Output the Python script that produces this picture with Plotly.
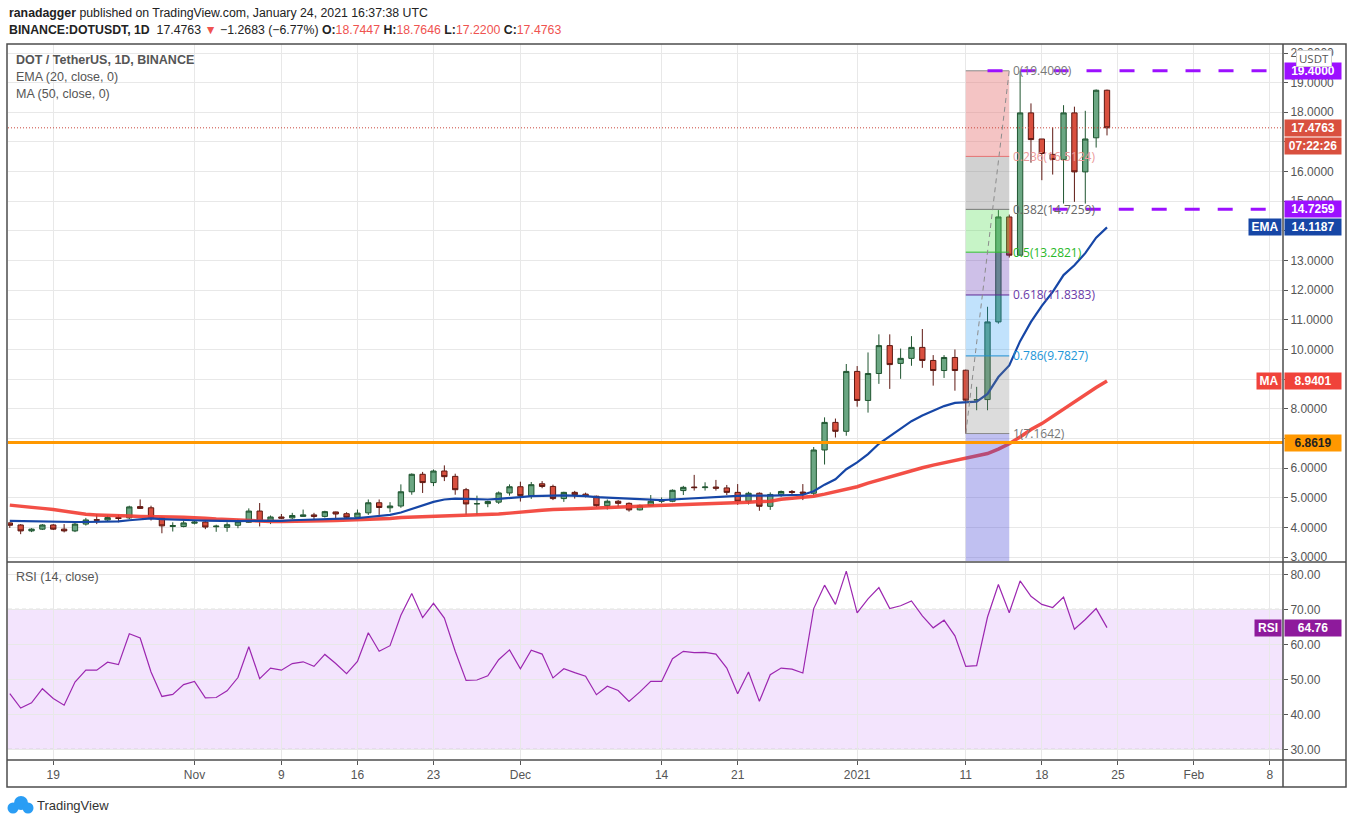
import pandas as pd
import plotly.graph_objects as go

# ---- data (DOT/USDT daily, Binance) ----
dates = pd.date_range("2020-10-15", periods=102, freq="D")

opens = [4.15, 4.08, 3.88, 3.94, 4.08, 3.94, 3.88, 4.11, 4.26, 4.25,
         4.33, 4.32, 4.70, 4.66, 4.32, 4.03, 4.03, 4.14, 4.18, 4.02,
         4.00, 4.07, 4.17, 4.55, 4.20, 4.35, 4.32, 4.37, 4.42, 4.37,
         4.52, 4.46, 4.34, 4.49, 4.83, 4.66, 4.72, 5.20, 5.79, 5.51,
         5.90, 5.72, 5.27, 4.79, 4.80, 4.85, 5.16, 5.37, 5.07, 5.47,
         5.38, 4.97, 5.18, 5.12, 5.05, 4.73, 4.88, 4.81, 4.59, 4.73,
         4.88, 4.88, 5.24, 5.36, 5.34, 5.36, 5.33, 5.18, 4.88, 5.15,
         4.71, 5.11, 5.21, 5.19, 5.15, 6.61, 7.54, 7.24, 9.26, 8.28,
         9.19, 10.13, 9.53, 9.70, 10.07, 9.63, 9.29, 9.73, 9.30, 8.29,
         8.31, 10.93, 14.47, 13.18, 17.98, 17.10, 16.58, 16.41, 17.98, 15.99,
         17.14, 18.7447]
highs = [4.17, 4.11, 3.97, 4.11, 4.11, 4.11, 4.20, 4.32, 4.45, 4.40,
         4.42, 4.73, 4.94, 4.73, 4.36, 4.17, 4.23, 4.23, 4.25, 4.09,
         4.17, 4.28, 4.64, 4.82, 4.40, 4.45, 4.49, 4.60, 4.49, 4.56,
         4.53, 4.51, 4.60, 4.94, 4.94, 4.85, 5.45, 5.82, 5.87, 5.95,
         6.09, 5.81, 5.33, 5.07, 4.90, 5.21, 5.45, 5.54, 5.53, 5.56,
         5.44, 5.20, 5.23, 5.17, 5.07, 4.94, 4.92, 4.84, 4.77, 5.09,
         5.01, 5.28, 5.40, 5.77, 5.52, 5.60, 5.43, 5.46, 5.20, 5.18,
         5.18, 5.24, 5.26, 5.46, 6.71, 7.71, 7.67, 9.51, 9.44, 9.90,
         10.51, 10.51, 10.03, 10.45, 10.69, 9.81, 9.81, 10.00, 9.32, 8.74,
         11.44, 14.70, 14.55, 19.40, 18.30, 17.10, 17.49, 18.24, 18.19, 18.05,
         18.77, 18.7646]
lows = [3.98, 3.77, 3.84, 3.91, 3.91, 3.83, 3.84, 4.06, 4.11, 4.20,
        4.17, 4.28, 4.62, 4.23, 3.80, 3.86, 4.00, 4.10, 3.94, 3.85,
        3.85, 3.97, 4.15, 4.03, 4.11, 4.28, 4.28, 4.36, 4.28, 4.33,
        4.28, 4.28, 4.28, 4.42, 4.42, 4.51, 4.66, 5.10, 5.16, 5.39,
        5.56, 5.10, 4.42, 4.42, 4.68, 4.79, 5.07, 4.87, 4.96, 5.32,
        4.92, 4.86, 4.97, 5.01, 4.69, 4.60, 4.69, 4.53, 4.57, 4.71,
        4.81, 4.85, 5.09, 5.24, 5.24, 5.24, 5.09, 4.76, 4.77, 4.56,
        4.59, 5.03, 5.09, 4.92, 5.09, 6.12, 7.03, 7.09, 8.07, 7.87,
        8.84, 8.67, 9.01, 9.45, 9.38, 8.78, 9.04, 8.61, 7.1642, 7.95,
        7.95, 10.87, 13.10, 13.18, 16.30, 15.71, 15.90, 14.92, 14.98, 14.92,
        16.81, 17.22]
closes = [4.07, 3.88, 3.94, 4.08, 3.94, 3.88, 4.11, 4.25, 4.24, 4.33,
          4.30, 4.69, 4.64, 4.32, 4.05, 4.06, 4.15, 4.18, 4.01, 4.04,
          4.09, 4.19, 4.55, 4.20, 4.35, 4.31, 4.40, 4.42, 4.37, 4.53,
          4.45, 4.34, 4.48, 4.83, 4.67, 4.72, 5.20, 5.79, 5.51, 5.90,
          5.71, 5.27, 4.79, 4.80, 4.87, 5.16, 5.37, 5.07, 5.44, 5.38,
          4.97, 5.18, 5.10, 5.05, 4.73, 4.88, 4.81, 4.59, 4.74, 4.88,
          4.90, 5.25, 5.35, 5.34, 5.36, 5.32, 5.18, 4.88, 5.15, 4.71,
          5.11, 5.21, 5.18, 5.15, 6.61, 7.54, 7.24, 9.26, 8.28, 9.19,
          10.13, 9.49, 9.70, 10.07, 9.63, 9.29, 9.73, 9.29, 8.29, 8.31,
          10.93, 14.47, 13.18, 17.98, 17.08, 16.61, 16.41, 17.98, 15.99, 17.10,
          18.7447, 17.4763]

ema20 = [4.22, 4.21, 4.20, 4.19, 4.19, 4.18, 4.18, 4.18, 4.19, 4.19,
         4.20, 4.24, 4.28, 4.30, 4.28, 4.26, 4.25, 4.24, 4.23, 4.22,
         4.22, 4.21, 4.22, 4.22, 4.21, 4.22, 4.24, 4.25, 4.26, 4.27,
         4.28, 4.29, 4.31, 4.35, 4.38, 4.42, 4.50, 4.62, 4.73, 4.86,
         4.94, 4.97, 4.96, 4.95, 4.94, 4.96, 5.00, 5.02, 5.05, 5.07,
         5.07, 5.08, 5.07, 5.05, 5.02, 5.00, 4.98, 4.96, 4.95, 4.93,
         4.92, 4.94, 4.96, 4.99, 5.02, 5.04, 5.05, 5.06, 5.07, 5.06,
         5.07, 5.08, 5.09, 5.10, 5.22, 5.44, 5.62, 5.96, 6.19, 6.47,
         6.82, 7.07, 7.32, 7.58, 7.77, 7.93, 8.09, 8.20, 8.22, 8.24,
         8.50, 9.07, 9.46, 10.28, 10.93, 11.47, 11.94, 12.51, 12.84, 13.25,
         13.77, 14.1187]
ma50 = [4.75, 4.72, 4.68, 4.64, 4.60, 4.55, 4.50, 4.44, 4.42, 4.40,
        4.39, 4.38, 4.37, 4.37, 4.36, 4.35, 4.34, 4.33, 4.31, 4.28,
        4.26, 4.24, 4.22, 4.21, 4.20, 4.20, 4.20, 4.20, 4.21, 4.22,
        4.23, 4.24, 4.25, 4.26, 4.28, 4.30, 4.33, 4.34, 4.36, 4.37,
        4.38, 4.39, 4.40, 4.41, 4.43, 4.45, 4.48, 4.52, 4.56, 4.58,
        4.60, 4.62, 4.63, 4.64, 4.65, 4.66, 4.68, 4.70, 4.71, 4.73,
        4.74, 4.75, 4.77, 4.79, 4.80, 4.81, 4.82, 4.83, 4.85, 4.87,
        4.88, 4.95, 4.98, 5.01, 5.05, 5.12, 5.20, 5.29, 5.37, 5.49,
        5.60, 5.71, 5.81, 5.91, 6.01, 6.10, 6.18, 6.27, 6.32, 6.40,
        6.49, 6.64, 6.82, 7.05, 7.30, 7.50, 7.75, 8.00, 8.23, 8.48,
        8.72, 8.9401]
rsi14 = [45.9, 41.8, 43.3, 47.3, 44.5, 42.6, 49.2, 52.6, 52.6, 54.9,
         54.2, 63.0, 61.8, 52.1, 45.1, 45.7, 48.5, 49.4, 44.7, 44.8,
         46.7, 50.5, 59.3, 50.2, 53.2, 52.6, 54.5, 55.0, 53.7, 57.1,
         54.5, 51.6, 55.1, 63.3, 58.0, 59.6, 68.3, 74.5, 67.6, 71.7,
         67.5, 58.0, 49.7, 49.8, 51.0, 55.6, 58.4, 53.0, 58.3, 57.2,
         50.4, 53.0, 51.9, 50.9, 45.6, 48.0, 46.8, 43.7, 46.4, 49.4,
         49.4, 55.9, 58.0, 57.6, 57.7, 57.2, 53.2, 45.9, 52.1, 43.7,
         51.3, 53.2, 52.9, 51.8, 70.2, 76.9, 71.4, 80.9, 69.0, 73.0,
         76.2, 70.2, 71.0, 72.4, 68.1, 64.7, 66.9, 62.4, 53.7, 53.9,
         67.8, 77.1, 69.0, 78.1, 73.7, 71.4, 70.5, 73.5, 64.3, 67.1,
         70.2, 64.76]

tick_dates = ["2020-10-19", "2020-11-01", "2020-11-09", "2020-11-16", "2020-11-23",
              "2020-12-01", "2020-12-14", "2020-12-21", "2021-01-01", "2021-01-11",
              "2021-01-18", "2021-01-25", "2021-02-01", "2021-02-08"]
tick_text = ["19", "Nov", "9", "16", "23", "Dec", "14", "21", "2021", "11",
             "18", "25", "Feb", "8"]
price_ticks = list(range(3, 21))
price_hidden = [7, 9, 14, 17]          # covered by the price labels on the axis
rsi_ticks = [30, 40, 50, 60, 70, 80]

# fib retracement drawn from the Jan 11 low to the Jan 16 high
fib_start, fib_end = "2021-01-11", "2021-01-15"
fib_low, fib_high = 7.1642, 19.4
fib_levels = [0, 0.236, 0.382, 0.5, 0.618, 0.786, 1, 1.618]
fib_line_colors = ["#8a8a8a", "#e57373", "#787878", "#2fbf2f", "#5e2a96", "#1e8fd0", "#8a8a8a"]
fib_text_colors = ["#777777", "#ec9a9a", "#666666", "#28b828", "#6a3aa8", "#2196d8", "#777777"]
fib_fills = ["rgba(229,115,115,0.42)", "rgba(128,128,128,0.36)", "rgba(80,220,80,0.32)",
             "rgba(103,58,183,0.32)", "rgba(33,150,243,0.28)", "rgba(128,128,128,0.28)",
             "rgba(70,70,215,0.34)"]

resistance, resistance_from = 19.4, "2021-01-13"
support, support_from = 14.7259, "2021-01-19"
breakout_level = 6.8619

green_body, green_edge = "#6ba783", "#1f5530"
red_body, red_edge = "#d9503f", "#5e1812"
purple = "#9c10ff"

W, H = 1351, 824
L, R, T, B = 8, 68, 44, 64


def px(x):
    return (x - L) / (W - L - R)


def py(y):
    return (H - B - y) / (H - T - B)


x_lo = dates[0] - pd.Timedelta(hours=4)
x_hi = dates[0] + pd.Timedelta(days=117.2)
last_close = closes[-1]

fig = go.Figure()

fig.add_trace(go.Candlestick(
    x=dates, open=opens, high=highs, low=lows, close=closes,
    increasing=dict(fillcolor=green_body, line=dict(color=green_edge, width=1)),
    decreasing=dict(fillcolor=red_body, line=dict(color=red_edge, width=1)),
    xaxis="x", yaxis="y", showlegend=False, hoverinfo="skip"))

fig.add_trace(go.Scatter(x=dates, y=ma50, mode="lines", line=dict(color="#f23d33", width=3.5),
                         opacity=0.9, xaxis="x", yaxis="y", showlegend=False))
fig.add_trace(go.Scatter(x=dates, y=ema20, mode="lines", line=dict(color="#1646a6", width=2.2),
                         xaxis="x", yaxis="y", showlegend=False))
fig.add_trace(go.Scatter(x=dates, y=rsi14, mode="lines", line=dict(color="#9c27b0", width=1.2),
                         xaxis="x", yaxis="y2", showlegend=False))

shapes = []
annots = []

# RSI band
shapes.append(dict(type="rect", xref="x domain", yref="y2", x0=0, x1=1, y0=30, y1=70,
                   fillcolor="rgba(175,75,242,0.15)", line_width=0, layer="below"))
for lvl in (30, 70):
    shapes.append(dict(type="line", xref="x domain", yref="y2", x0=0, x1=1, y0=lvl, y1=lvl,
                       line=dict(color="#b4b4b4", width=1, dash="4px,3px"), layer="below"))

# fib retracement
rng = fib_high - fib_low
fib_prices = [fib_high - lv * rng for lv in fib_levels]
for k in range(len(fib_levels) - 1):
    shapes.append(dict(type="rect", xref="x", yref="y", x0=fib_start, x1=fib_end,
                       y0=fib_prices[k], y1=fib_prices[k + 1],
                       fillcolor=fib_fills[k], line_width=0, layer="above"))
for k in range(len(fib_levels) - 1):
    shapes.append(dict(type="line", xref="x", yref="y", x0=fib_start, x1=fib_end,
                       y0=fib_prices[k], y1=fib_prices[k],
                       line=dict(color=fib_line_colors[k], width=1), layer="above"))
    annots.append(dict(xref="x", yref="y", x=fib_end, y=fib_prices[k], xanchor="left",
                       xshift=2, yanchor="middle", showarrow=False,
                       text=f"{fib_levels[k]:g}({fib_prices[k]:.4f})",
                       font=dict(size=12, color=fib_text_colors[k])))
shapes.append(dict(type="line", xref="x", yref="y", x0=fib_start, x1=fib_end,
                   y0=fib_low, y1=fib_high, line=dict(color="#8c8c8c", width=1, dash="5px,4px"),
                   layer="above"))

# horizontal levels
shapes.append(dict(type="line", xref="x domain", yref="y", x0=0, x1=1, y0=breakout_level,
                   y1=breakout_level, line=dict(color="#ff9800", width=3), layer="above"))
shapes.append(dict(type="line", xref="x domain", yref="y", x0=0, x1=1, y0=last_close,
                   y1=last_close, line=dict(color="#c9473c", width=1, dash="1px,2px"), layer="above"))
for lvl, start in ((resistance, resistance_from), (support, support_from)):
    shapes.append(dict(type="line", xref="x", yref="y", x0=start, x1=x_hi, y0=lvl, y1=lvl,
                       line=dict(color=purple, width=3, dash="15px,18px"), layer="above"))

# frame
line_c = "#4d4d4d"
shapes.append(dict(type="rect", xref="paper", yref="paper", x0=px(7), x1=px(1346),
                   y0=py(787), y1=py(44), line=dict(color=line_c, width=1.5)))
shapes.append(dict(type="line", xref="paper", yref="paper", x0=px(7), x1=px(1346),
                   y0=py(562), y1=py(562), line=dict(color=line_c, width=1.5)))
shapes.append(dict(type="line", xref="paper", yref="paper", x0=px(7), x1=px(1346),
                   y0=py(760), y1=py(760), line=dict(color=line_c, width=1.5)))
shapes.append(dict(type="line", xref="paper", yref="paper", x0=px(1283), x1=px(1283),
                   y0=py(787), y1=py(44), line=dict(color=line_c, width=1.5)))


def axis_label(y, text, bg, fg="white", yref="y", yshift=0):
    annots.append(dict(xref="paper", yref=yref, x=px(1284), y=y, xanchor="left",
                       yanchor="middle", yshift=yshift, showarrow=False, text=f"<b>{text}</b>",
                       bgcolor=bg, width=54, height=14, borderpad=1, align="center",
                       font=dict(size=12, color=fg, family="Liberation Sans")))


def left_tag(y, text, bg, w, yref="y"):
    annots.append(dict(xref="paper", yref=yref, x=px(1282), y=y, xanchor="right",
                       yanchor="middle", showarrow=False, text=f"<b>{text}</b>",
                       bgcolor=bg, width=w, height=14, borderpad=1, align="center",
                       font=dict(size=12, color="white", family="Liberation Sans")))


axis_label(resistance, f"{resistance:.4f}", purple)
axis_label(last_close, f"{last_close:.4f}", "#d9503f")
axis_label(last_close, "07:22:26", "#d9503f", yshift=-18)
axis_label(support, f"{support:.4f}", purple)
axis_label(ema20[-1], f"{ema20[-1]:.4f}", "#1646a6")
left_tag(ema20[-1], "EMA", "#1646a6", 30)
axis_label(ma50[-1], f"{ma50[-1]:.4f}", "#f0433a")
left_tag(ma50[-1], "MA", "#f0433a", 22)
axis_label(breakout_level, f"{breakout_level:.4f}", "#ff9800", fg="#222222")
axis_label(rsi14[-1], f"{rsi14[-1]:.2f}", "#8e1a9c", yref="y2")
left_tag(rsi14[-1], "RSI", "#8e1a9c", 24, yref="y2")

annots.append(dict(xref="paper", yref="paper", x=px(1314), y=py(59), xanchor="center",
                   yanchor="middle", showarrow=False, width=32, height=13,
                   text="USDT", bgcolor="white", bordercolor="#cfcfcf", borderwidth=1,
                   borderpad=1, font=dict(size=11.5, color="#555555")))

# header and pane legends
red_txt = "#ef5350"
annots.append(dict(xref="paper", yref="paper", x=px(7), y=py(13), xanchor="left",
                   yanchor="middle", showarrow=False,
                   font=dict(family="Liberation Sans", size=12.3, color="#222222"),
                   text="<b>ranadagger</b> published on TradingView.com, January 24, 2021 16:37:38 UTC"))
annots.append(dict(
    xref="paper", yref="paper", x=px(7), y=py(30), xanchor="left", yanchor="middle",
    showarrow=False, font=dict(family="Liberation Sans", size=12.3, color="#222222"),
    text=(f"<b>BINANCE:DOTUSDT, 1D</b>  {last_close:.4f} "
          f"<span style='color:{red_txt}'>▼</span> −1.2683 (−6.77%) "
          f"<b>O:</b><span style='color:{red_txt}'>{opens[-1]:.4f}</span> "
          f"<b>H:</b><span style='color:{red_txt}'>{highs[-1]:.4f}</span> "
          f"<b>L:</b><span style='color:{red_txt}'>{lows[-1]:.4f}</span> "
          f"<b>C:</b><span style='color:{red_txt}'>{closes[-1]:.4f}</span>")))
leg_font = dict(family="Liberation Sans", size=12.5, color="#555555")
for ytxt, txt in ((60, "<b>DOT / TetherUS, 1D, BINANCE</b>"), (77, "EMA (20, close, 0)"),
                  (94, "MA (50, close, 0)"), (577, "RSI (14, close)")):
    annots.append(dict(xref="paper", yref="paper", x=px(14), y=py(ytxt), xanchor="left",
                       yanchor="middle", showarrow=False, text=txt, font=leg_font))

# TradingView mark
for cx, cy, r in ((13, 808, 5.5), (21, 803, 7), (28, 808, 5.5)):
    shapes.append(dict(type="circle", xref="paper", yref="paper", x0=px(cx - r), x1=px(cx + r),
                       y0=py(cy + r), y1=py(cy - r), fillcolor="#2a9df4", line_width=0))
annots.append(dict(xref="paper", yref="paper", x=px(35), y=py(806), xanchor="left",
                   yanchor="middle", showarrow=False, text="TradingView",
                   font=dict(family="Liberation Sans", size=13, color="#333333")))

grid_c = "#e8e8e8"
tick_font = dict(family="Liberation Sans", size=12, color="#555555")

fig.update_layout(
    width=W, height=H, autosize=False,
    margin=dict(l=L, r=R, t=T, b=B),
    paper_bgcolor="white", plot_bgcolor="white",
    boxgap=0.3,
    shapes=shapes, annotations=annots,
    xaxis=dict(domain=[0, 1], anchor="y2", type="date", range=[x_lo, x_hi],
               tickmode="array", tickvals=tick_dates, ticktext=tick_text,
               showgrid=True, gridcolor=grid_c, ticks="outside", ticklen=4,
               tickcolor="#555555", tickfont=tick_font, rangeslider=dict(visible=False),
               showline=False, zeroline=False),
    yaxis=dict(domain=[py(561), 1], anchor="x", side="right",
               range=[3 - 4 / 29.65, 20 + 9 / 29.65],
               tickmode="array", tickvals=price_ticks,
               ticktext=["" if v in price_hidden else f"{v:.4f}" for v in price_ticks],
               showgrid=True, gridcolor=grid_c, ticks="outside", ticklen=4,
               tickcolor="#555555", tickfont=tick_font, zeroline=False, showline=False),
    yaxis2=dict(domain=[0, py(563)], anchor="x", side="right",
                range=[30 - 10.7 / 3.5, 80 + 11.3 / 3.5],
                tickmode="array", tickvals=rsi_ticks,
                ticktext=[f"{v:.2f}" for v in rsi_ticks],
                showgrid=True, gridcolor=grid_c, ticks="outside", ticklen=4,
                tickcolor="#555555", tickfont=tick_font, zeroline=False, showline=False),
)

# the page's default body margin would push the 1351x824 figure off by 8px
fig.write_html("out.html", config={"displayModeBar": False},
               post_script="document.body.style.margin='0px';")
